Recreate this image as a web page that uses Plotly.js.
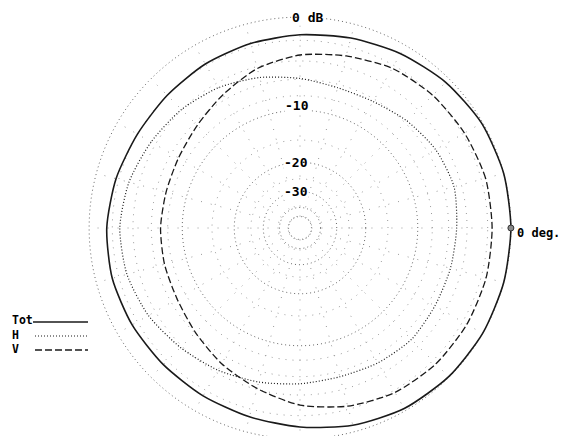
<!DOCTYPE html>
<html>
<head>
<meta charset="utf-8">
<script src="https://cdn.plot.ly/plotly-3.0.1.min.js"></script>
<style>
html,body{margin:0;padding:0;overflow:hidden;background:#fff;}
#chart{width:576px;height:446px;}
</style>
</head>
<body>
<div id="chart"></div>
<script>
// Azimuth angles (degrees, 0 = right, counter-clockwise)
const angles = [0,15,30,45,60,75,90,105,120,135,150,165,180,195,210,225,240,255,270,285,300,315,330,345];
// Field strength in dB relative to the maximum
const totDb = [0,0,-0.1,-0.4,-0.8,-1.2,-1.5,-1.7,-1.85,-2.0,-2.0,-1.75,-1.5,-1.4,-1.45,-1.5,-1.45,-1.3,-1.0,-0.55,-0.2,-0.05,0,0];
const hDb   = [-5.1,-4.8,-5.1,-5.7,-6.3,-6.4,-5.9,-5.2,-4.5,-3.95,-3.5,-3.0,-2.7,-2.8,-3.2,-3.8,-4.3,-4.8,-5.2,-5.4,-5.2,-5.0,-5.2,-5.2];
const vDb   = [-1.6,-1.6,-1.8,-2.0,-2.3,-2.9,-3.4,-4.2,-5.4,-6.4,-7.0,-7.2,-7.1,-7.0,-6.8,-6.1,-5.1,-4.1,-3.0,-2.3,-1.8,-1.6,-1.55,-1.55];
// Grid rings (dB) and labels
const ringMajor = [0,-10,-20,-30,-40,-50];
const ringMinor = [-2,-4,-6,-8,-15,-25];
const spokeStep = 15;
const seriesNames = ['Tot','H','V'];
const cursorAngle = 0;

// ARRL log scale: radius = 0.89^(attenuation/2)
function arrl(db){ return Math.pow(0.89, -db/2); }

const W = 576, H = 446;
const CX = 300, CY = 228, RP = 213;
const px = x => x / W;
const py = y => (H - y) / H;

const traces = [];
const circ = [];
for (let a = 0; a <= 360; a += 2) circ.push(a);

ringMinor.forEach(db => traces.push({
  type:'scatterpolar', mode:'lines', theta:circ, r:circ.map(()=>arrl(db)),
  line:{color:'#9a9a9a', width:1, dash:'1px,6px'}, hoverinfo:'skip', showlegend:false
}));
ringMajor.forEach(db => traces.push({
  type:'scatterpolar', mode:'lines', theta:circ, r:circ.map(()=>arrl(db)),
  line:{color:'#666', width:1, dash:'1px,3px'}, hoverinfo:'skip', showlegend:false
}));
// spokes
const sTh = [], sR = [];
for (let a = 0; a < 360; a += spokeStep) { sTh.push(a, a, null); sR.push(arrl(-50), 1, null); }
traces.push({type:'scatterpolar', mode:'lines', theta:sTh, r:sR, connectgaps:false,
  line:{color:'#999', width:1, dash:'1px,9px'}, hoverinfo:'skip', showlegend:false});

function closed(arr){ return arr.concat([arr[0]]); }
const thC = angles.concat([360]);
const styles = {
  Tot:{color:'#1a1a1a', width:1.6, dash:'solid'},
  H:{color:'#1a1a1a', width:1.2, dash:'1px,2px'},
  V:{color:'#1a1a1a', width:1.3, dash:'7px,3px'}
};
[totDb, hDb, vDb].forEach((d, i) => traces.push({
  type:'scatterpolar', mode:'lines', name:seriesNames[i], theta:thC, r:closed(d).map(arrl),
  line:Object.assign({shape:'spline', smoothing:0.7}, styles[seriesNames[i]]), showlegend:false
}));
traces.push({type:'scatterpolar', mode:'markers', theta:[cursorAngle], r:[arrl(totDb[0])],
  marker:{size:6, color:'#8a8a8a', line:{color:'#333', width:1}}, showlegend:false});

const f = (s) => ({family:'DejaVu Sans Mono, Liberation Mono, monospace', size:s, color:'#000'});
const annotations = [
  {text:'<b>0 dB</b>', x:px(307), y:py(17), bgcolor:'#fff', font:f(13)},
  {text:'<b>-10</b>', x:px(297), y:py(105), bgcolor:'#fff', font:f(13)},
  {text:'<b>-20</b>', x:px(296), y:py(162), bgcolor:'#fff', font:f(13)},
  {text:'<b>-30</b>', x:px(296), y:py(191), bgcolor:'#fff', font:f(13)},
  {text:'<b>0 deg.</b>', x:px(516), y:py(233), xanchor:'left', font:f(12)},
  {text:'<b>Tot</b>', x:px(11), y:py(320), xanchor:'left', font:f(11.5)},
  {text:'<b>H</b>', x:px(11), y:py(335), xanchor:'left', font:f(11.5)},
  {text:'<b>V</b>', x:px(11), y:py(349), xanchor:'left', font:f(11.5)}
].map(a => Object.assign({xref:'paper', yref:'paper', showarrow:false, borderpad:0, xanchor:'center', yanchor:'middle'}, a));

const shapes = [
  {x0:33, x1:88, y:322, st:styles.Tot},
  {x0:35, x1:89, y:336, st:styles.H},
  {x0:35, x1:88, y:350, st:styles.V}
].map(s => ({type:'line', xref:'paper', yref:'paper', x0:px(s.x0), x1:px(s.x1), y0:py(s.y), y1:py(s.y),
  line:{color:s.st.color, width:s.st.width, dash:s.st.dash}}));

const layout = {
  width:W, height:H, margin:{l:0,r:0,t:0,b:0}, paper_bgcolor:'#fff', showlegend:false,
  polar:{
    domain:{x:[(CX-RP)/W,(CX+RP)/W], y:[(H-CY-RP)/H,(H-CY+RP)/H]},
    bgcolor:'rgba(0,0,0,0)',
    radialaxis:{visible:false, range:[0,1.01]},
    angularaxis:{visible:false, direction:'counterclockwise', rotation:0}
  },
  annotations:annotations, shapes:shapes
};
Plotly.newPlot('chart', traces, layout, {staticPlot:true, displayModeBar:false});
</script>
</body>
</html>
